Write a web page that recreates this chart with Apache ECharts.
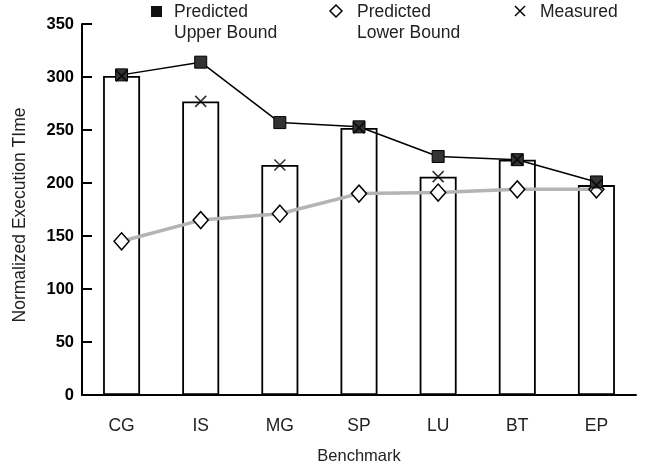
<!DOCTYPE html>
<html><head><meta charset="utf-8">
<script src="https://cdn.jsdelivr.net/npm/echarts@6/dist/echarts.min.js"></script>
<style>html,body{margin:0;padding:0;background:#fff}#c{width:648px;height:467px}</style>
</head><body><div id="c"></div>
<script>
const categories = ['CG','IS','MG','SP','LU','BT','EP'];
const upperBound = [302, 314, 257, 253, 225, 222, 201];
const lowerBound = [145, 165, 171, 190, 191, 194, 194];
const measured   = [301, 277, 217, 252, 206, 222, 198];
const yTicks = [0, 50, 100, 150, 200, 250, 300, 350];

const FONT = '"Liberation Sans", Arial, sans-serif';
const crossPath = 'path://M0,0L10,10M10,0L0,10';
const chart = echarts.init(document.getElementById('c'), null, {renderer:'canvas'});
chart.setOption({
  animation:false,
  backgroundColor:'#fff',
  grid:{left:82, right:12, top:24, bottom:72, containLabel:false, outerBoundsMode:'none'},
  xAxis:{
    type:'category', data:categories,
    name:'Benchmark', nameLocation:'middle', nameGap:53,
    nameTextStyle:{fontFamily:FONT, fontSize:16.5, color:'#222'},
    axisLine:{lineStyle:{color:'#000', width:2}},
    axisTick:{inside:true, length:9, lineStyle:{color:'#000', width:2}},
    axisLabel:{fontFamily:FONT, fontSize:17.5, color:'#222', margin:22},
    splitLine:{show:false}
  },
  yAxis:{
    type:'value', min:yTicks[0], max:yTicks[yTicks.length-1], interval:50,
    name:'Normalized Execution TIme', nameLocation:'middle', nameGap:53,
    nameTextStyle:{fontFamily:FONT, fontSize:17.5, color:'#222', padding:[0,11,0,0]},
    axisLine:{show:true, lineStyle:{color:'#000', width:2}},
    axisTick:{show:true, inside:true, length:10, lineStyle:{color:'#000', width:2}},
    axisLabel:{fontFamily:FONT, fontSize:16.5, fontWeight:'bold', color:'#000', margin:8},
    splitLine:{show:false}
  },
  series:[
    {name:'Measured bar', type:'bar', data:measured, barWidth:37, z:1,
     itemStyle:{color:'#fff', borderColor:'#000', borderWidth:1.8}},
    {name:'Predicted Lower Bound', type:'line', data:lowerBound, z:3,
     symbol:'diamond', symbolSize:[15,17],
     lineStyle:{color:'#b4b4b4', width:3.5},
     itemStyle:{color:'#fff', borderColor:'#000', borderWidth:1.5}},
    {name:'Predicted Upper Bound', type:'line', data:upperBound, z:4,
     symbol:'rect', symbolSize:12,
     lineStyle:{color:'#000', width:1.5},
     itemStyle:{color:'#333', borderColor:'#000', borderWidth:1}},
    {name:'Measured', type:'scatter', data:measured, z:5,
     symbol:crossPath, symbolSize:11,
     itemStyle:{color:'rgba(0,0,0,0)', borderColor:'#000', borderWidth:1.6}}
  ],
  graphic:[
    {type:'rect', shape:{x:151,y:6,width:11,height:11}, style:{fill:'#111'}},
    {type:'text', left:174, top:2, style:{text:'Predicted\nUpper Bound', font:'17.5px '+FONT, fill:'#222', lineHeight:21}},
    {type:'polygon', shape:{points:[[336,5],[342,11],[336,17],[330,11]]}, style:{fill:'#fff', stroke:'#000', lineWidth:1.5}},
    {type:'text', left:357, top:2, style:{text:'Predicted\nLower Bound', font:'17.5px '+FONT, fill:'#222', lineHeight:21}},
    {type:'polyline', shape:{points:[[515,6],[525,16]]}, style:{stroke:'#000', lineWidth:1.5}},
    {type:'polyline', shape:{points:[[525,6],[515,16]]}, style:{stroke:'#000', lineWidth:1.5}},
    {type:'text', left:540, top:2, style:{text:'Measured', font:'17.5px '+FONT, fill:'#222', lineHeight:21}}
  ]
});
</script></body></html>
